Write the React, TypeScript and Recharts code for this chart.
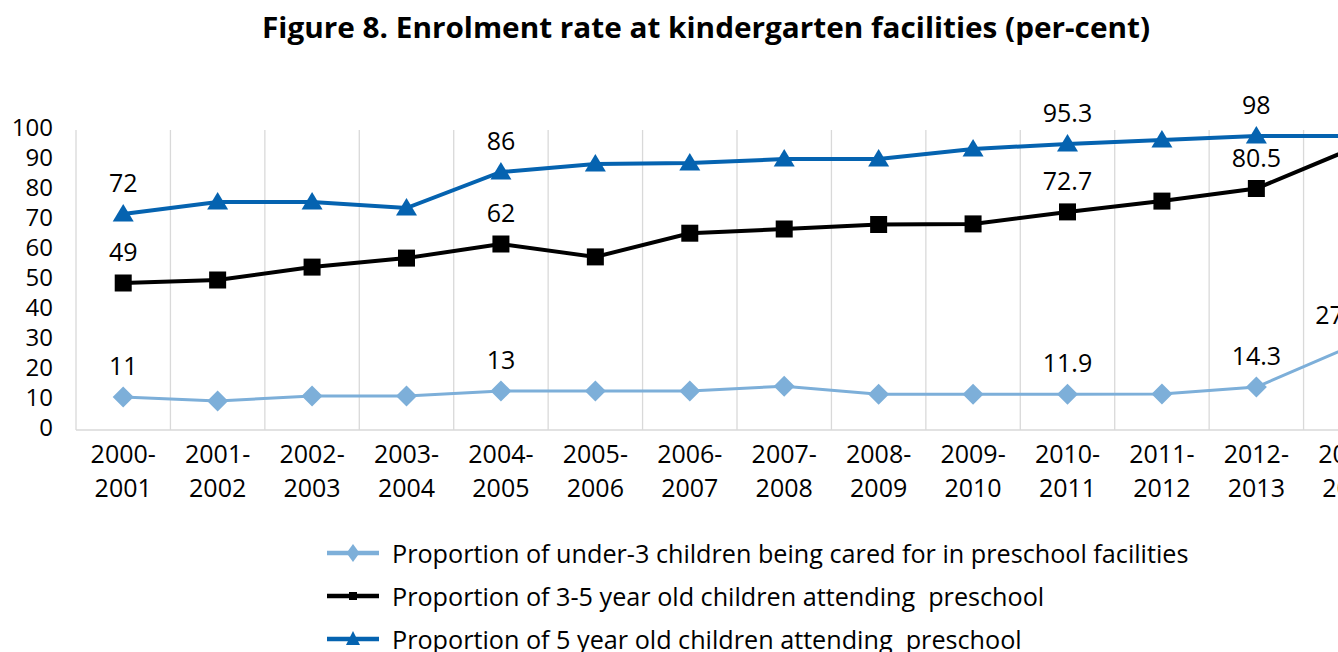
import React from "react";
import { LineChart, Line, XAxis, YAxis, CartesianGrid } from "recharts";

const categories = [
  "2000-2001", "2001-2002", "2002-2003", "2003-2004", "2004-2005", "2005-2006", "2006-2007",
  "2007-2008", "2008-2009", "2009-2010", "2010-2011", "2011-2012", "2012-2013", "2013-2014",
];
const under3 = [11, 9.7, 11.3, 11.3, 13, 13, 13, 14.6, 11.9, 11.9, 11.9, 12, 14.3, 27.9];
const age3to5 = [49, 50, 54.3, 57.3, 62, 57.7, 65.6, 67, 68.5, 68.7, 72.7, 76.3, 80.5, 93.6];
const age5 = [72, 76, 76, 74, 86, 88.7, 89, 90.3, 90.3, 93.7, 95.3, 96.7, 98, 98];

const under3Labeled = [0, 4, 10, 12, 13];
const age3to5Labeled = [0, 4, 10, 12];
const age5Labeled = [0, 4, 10, 12];

const yTicks = [0, 10, 20, 30, 40, 50, 60, 70, 80, 90, 100];

const seriesNames = [
  "Proportion of under-3 children being cared for in preschool facilities",
  "Proportion of 3-5 year old children attending  preschool",
  "Proportion of 5 year old children attending  preschool",
];

const C_LIGHT = "#7dafd9";
const C_BLACK = "#000000";
const C_BLUE = "#0563b0";
const FONT = "'Open Sans', sans-serif";
const FS = 25;
// right edge of the (original, wider) chart area: labels are kept inside it, as the source tool does
const CHART_AREA_RIGHT = 1366;

const data = categories.map((c, i) => ({
  idx: i,
  cat: c,
  under3: under3[i],
  age3to5: age3to5[i],
  age5: age5[i],
}));

const label = (cx: number, cy: number, v: number, key: string) => {
  const txt = String(v);
  const approxW = txt.length * FS * 0.52;
  const x = Math.min(cx, CHART_AREA_RIGHT - approxW / 2);
  return (
    <text key={key + "l"} x={x} y={cy - 22} textAnchor="middle" fontSize={FS} fontFamily={FONT} fill="#000">
      {txt}
    </text>
  );
};

const makeDot = (kind: string, labeled: number[]) => (props: any) => {
  const { cx, cy, index, value } = props;
  if (cx == null || cy == null) return <g key={kind + index} />;
  let shape: React.ReactNode;
  if (kind === "diamond") {
    shape = (
      <polygon
        points={`${cx},${cy - 10.5} ${cx + 10.5},${cy} ${cx},${cy + 10.5} ${cx - 10.5},${cy}`}
        fill={C_LIGHT}
      />
    );
  } else if (kind === "square") {
    shape = <rect x={cx - 8.5} y={cy - 8.5} width={17} height={17} fill={C_BLACK} />;
  } else {
    shape = (
      <polygon points={`${cx},${cy - 10} ${cx + 10.5},${cy + 7.5} ${cx - 10.5},${cy + 7.5}`} fill={C_BLUE} />
    );
  }
  const v = Array.isArray(value) ? value[1] : value;
  return (
    <g key={kind + index}>
      {shape}
      {labeled.includes(index) ? label(cx, cy, v, kind + index) : null}
    </g>
  );
};

const XTick = (props: any) => {
  const { x, y, payload } = props;
  const name = categories[payload.value] || "";
  const parts = name.split("-");
  return (
    <g>
      <text x={x} y={y + 33} textAnchor="middle" fontSize={FS} fontFamily={FONT} fill="#000">
        {parts[0] + "-"}
      </text>
      <text x={x} y={y + 67} textAnchor="middle" fontSize={FS} fontFamily={FONT} fill="#000">
        {parts[1]}
      </text>
    </g>
  );
};

const YTick = (props: any) => {
  const { y, payload } = props;
  return (
    <text x={53} y={y + 6} textAnchor="end" fontSize={24} fontFamily={FONT} fill="#000">
      {payload.value}
    </text>
  );
};

const LegendSymbol = ({ kind }: { kind: string }) => {
  const color = kind === "diamond" ? C_LIGHT : kind === "square" ? C_BLACK : C_BLUE;
  return (
    <svg width={52} height={20} style={{ display: "block" }}>
      <line x1={0} y1={10} x2={52} y2={10} stroke={color} strokeWidth={4.5} />
      {kind === "diamond" && <polygon points="26,1 32.5,10 26,19 19.5,10" fill={color} />}
      {kind === "square" && <rect x={22} y={6} width={8} height={8} fill={color} />}
      {kind === "triangle" && <polygon points="26,2 33,16 19,16" fill={color} />}
    </svg>
  );
};

export default function App() {
  const kinds = ["diamond", "square", "triangle"];
  const rowY = [553, 596, 639];
  return (
    <div
      style={{
        position: "fixed",
        left: 0,
        top: 0,
        width: 1338,
        height: 652,
        overflow: "hidden",
        background: "#fff",
      }}
    >
      <svg width={1338} height={60} style={{ position: "absolute", left: 0, top: 0 }}>
        <text
          x={706}
          y={38}
          textAnchor="middle"
          fontSize={28}
          fontWeight="bold"
          fontFamily={FONT}
          fill="#000"
          textLength={888}
          lengthAdjust="spacingAndGlyphs"
        >
          Figure 8. Enrolment rate at kindergarten facilities (per-cent)
        </text>
      </svg>
      <div style={{ position: "absolute", left: 0, top: 0 }}>
        <LineChart width={1420} height={652} data={data} margin={{ top: 130, right: 22, left: 0, bottom: 142 }}>
          <CartesianGrid
            horizontal={false}
            vertical={true}
            stroke="#d9d9d9"
            strokeWidth={1.3}
            verticalCoordinatesGenerator={({ offset }: any) =>
              Array.from({ length: categories.length + 1 }, (_, k) => offset.left + (k * offset.width) / categories.length)
            }
          />
          <XAxis
            dataKey="idx"
            type="number"
            domain={[-0.5, categories.length - 0.5]}
            ticks={categories.map((_, i) => i)}
            interval={0}
            tick={<XTick />}
            tickLine={false}
            tickSize={0}
            tickMargin={0}
            axisLine={{ stroke: "#d9d9d9", strokeWidth: 1.3 }}
            height={80}
          />
          <YAxis
            domain={[0, 100]}
            ticks={yTicks}
            interval={0}
            tick={<YTick />}
            tickLine={false}
            axisLine={false}
            width={76}
          />
          <Line
            dataKey="under3"
            stroke={C_LIGHT}
            strokeWidth={3}
            isAnimationActive={false}
            dot={makeDot("diamond", under3Labeled)}
            activeDot={false}
          />
          <Line
            dataKey="age3to5"
            stroke={C_BLACK}
            strokeWidth={4}
            isAnimationActive={false}
            dot={makeDot("square", age3to5Labeled)}
            activeDot={false}
          />
          <Line
            dataKey="age5"
            stroke={C_BLUE}
            strokeWidth={4}
            isAnimationActive={false}
            dot={makeDot("triangle", age5Labeled)}
            activeDot={false}
          />
        </LineChart>
      </div>
      {kinds.map((k, i) => (
        <div
          key={k}
          style={{
            position: "absolute",
            left: 327,
            top: rowY[i] - 17,
            height: 34,
            display: "flex",
            alignItems: "center",
            whiteSpace: "pre",
            fontFamily: FONT,
            fontSize: 25.2,
            color: "#000",
          }}
        >
          <LegendSymbol kind={k} />
          <span style={{ marginLeft: 13 }}>{seriesNames[i]}</span>
        </div>
      ))}
    </div>
  );
}
